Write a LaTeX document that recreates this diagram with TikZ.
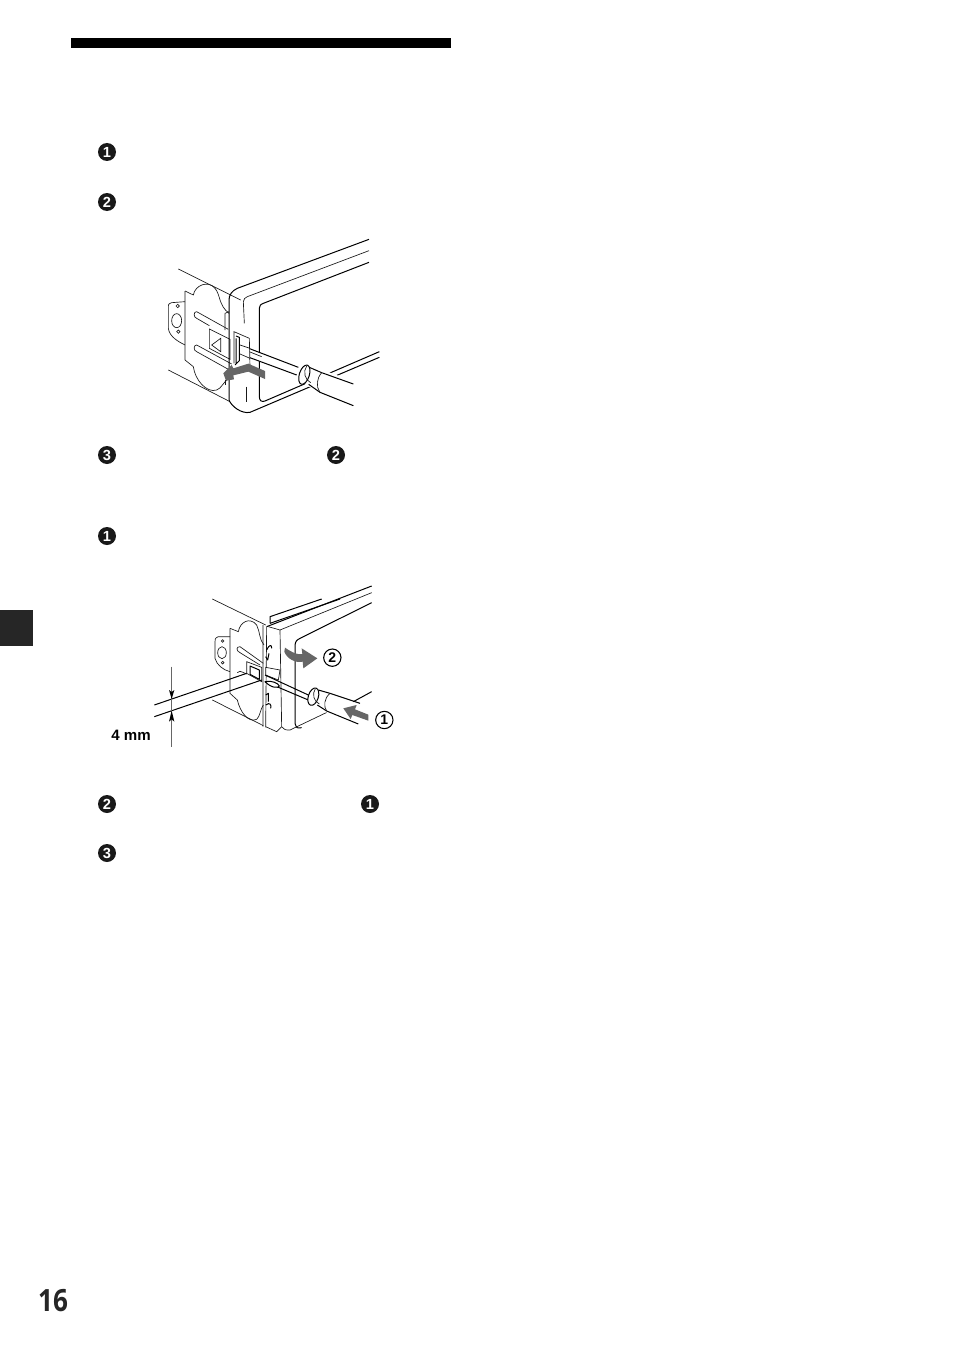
\documentclass[tikz,border=0pt]{standalone}
\usepackage{fontspec}
\setmainfont{Liberation Sans}
\newfontfamily\pagefont{Open Sans}
\tikzset{
  stepdot/.style={circle,fill=black!90,text=white,inner sep=0pt,minimum size=13.5pt,font=\bfseries\fontsize{11}{11}\selectfont},
  ringnum/.style={circle,draw,line width=0.8pt,inner sep=0pt,minimum size=13pt,font=\bfseries\fontsize{10.5}{10}\selectfont},
  edge/.style={line width=0.75pt,line join=round},
  thinline/.style={line width=0.5pt,black!90},
  greyarrow/.style={fill=black!60,draw=none},
  view/.style={x=0.25pt,y=-0.25pt}
}
\begin{document}
\begin{tikzpicture}[x=0.75pt,y=-0.75pt]
\useasboundingbox (0,0) rectangle (954,1352);
\fill (71,38) rectangle (451,48);
\fill[black!85] (0,610) rectangle (33,646);
\node[stepdot] (a1) at (107,152) {1};
\node[stepdot] (a2) at (107,202) {2};
\node[stepdot] (a3) at (107,455) {3};
\node[stepdot] (a4) at (336,455) {2};
\node[stepdot] (b1) at (107,536) {1};
\node[stepdot] (b2) at (107,804) {2};
\node[stepdot] (b3) at (370,804) {1};
\node[stepdot] (b4) at (107,853) {3};
\node[font=\pagefont\bfseries\fontsize{23}{24}\selectfont,xscale=0.85,black!85] (pagenum) at (53,1301) {16};
\node[font=\bfseries\fontsize{11.3}{12}\selectfont] (gap) at (131,735) {4 mm};

% first view
\begin{scope}[shift={(150,230)},view]
\draw[thinline] (85,117) -- (272,210);
\draw[thinline] (55,420) -- (240,515);
\draw[thinline] (105,183) -- (130,195) .. controls (135,165) and (175,150) .. (195,175) .. controls (212,195) and (205,225) .. (237,250);
\draw[thinline] (105,183) -- (105,390) -- (130,410) .. controls (135,450) and (170,490) .. (200,480) .. controls (215,475) and (220,455) .. (237,445);
\draw[thinline] (105,215) -- (65,218) .. controls (55,222) .. (55,235) -- (55,295) .. controls (58,320) and (85,335) .. (105,345);
\draw[thinline] (83,228) circle [radius=5];
\draw[thinline] (80,272) ellipse [x radius=15,y radius=21];
\draw[thinline] (85,305) circle [radius=5];
\draw[thinline] (235,298) -- (140,245) .. controls (130,245) and (130,262) .. (140,265) -- (178,287);
\draw[thinline] (245,402) -- (140,345) .. controls (130,345) and (130,362) .. (140,365) -- (235,418);
\draw[thinline] (178,297) -- (240,328) -- (240,388) -- (178,355) -- cycle;
\draw[thinline] (185,345) -- (212,325) -- (212,365) -- cycle;
\draw[thinline] (225,250) -- (237,245) (225,250) -- (225,300);
\draw[thinline] (225,450) -- (225,465);
\draw[edge] (657,28) -- (262,175) .. controls (245,183) and (237,195) .. (237,210) -- (237,510) .. controls (245,530) and (275,552) .. (300,547) -- (688,382);
\draw[edge] (657,97) -- (340,220) .. controls (330,225) .. (328,235) -- (328,500) .. controls (328,512) and (335,517) .. (345,513) -- (688,365);
\draw[thinline] (657,62) -- (292,200) .. controls (283,205) .. (280,215) -- (283,280);
\draw[thinline] (290,470) -- (290,515);
% screwdriver
\fill[white] (270,345) -- (445,412) -- (440,435) -- (270,372) -- cycle;
\draw[edge] (270,345) -- (445,412) (270,372) -- (440,435);
\draw[thinline] (285,360) -- (335,380);
\fill[white] (480,405) -- (625,460) -- (625,530) -- (465,465) -- cycle;
\draw[edge] (478,412) -- (515,428) -- (610,462);
\draw[edge] (476,463) -- (510,487) -- (610,527);
\draw[thinline] (515,428) .. controls (500,445) and (497,470) .. (510,487);
\draw[edge,fill=white] (463,434) ellipse [x radius=15,y radius=30,rotate=-18];
\draw[thinline] (470,408) .. controls (458,425) and (465,450) .. (482,458);
% clip
\fill[white] (252,305) -- (298,325) -- (300,412) -- (252,400) -- cycle;
\draw[thinline] (270,345) -- (300,355) (270,372) -- (300,385);
\draw[thinline] (252,400) -- (252,305) -- (298,325) -- (300,412);
\draw[edge] (258,318) -- (268,322) -- (268,392) -- (255,405) (258,325) -- (258,400);
\fill[greyarrow] (345,423) -- (345,447) -- (295,425) -- (250,436) -- (252,448) -- (228,452) -- (220,430) -- (245,405) -- (250,415) -- (295,401) -- cycle;
\end{scope}

% second view
\begin{scope}[shift={(100,580)},view]
\draw[thinline] (337,57) -- (497,135);
\draw[thinline] (337,360) -- (490,437);
\draw[thinline] (390,145) -- (415,155) .. controls (420,125) and (450,110) .. (470,135) .. controls (480,155) and (478,180) .. (492,195);
\draw[thinline] (390,145) -- (390,340) -- (412,360) .. controls (420,395) and (445,430) .. (470,418) .. controls (480,410) and (482,385) .. (490,375);
\draw[thinline] (390,170) -- (355,170) .. controls (345,175) .. (345,185) -- (345,235) .. controls (350,255) and (370,270) .. (390,275);
\draw[thinline] (368,183) circle [radius=4];
\draw[thinline] (366,218) ellipse [x radius=13,y radius=18];
\draw[thinline] (368,248) circle [radius=4];
\draw[thinline] (490,250) -- (420,200) .. controls (408,200) and (408,212) .. (420,218) -- (480,255);
\draw[thinline] (440,245) -- (485,262) -- (485,305) -- (440,280) -- cycle;
\draw[edge] (450,258) -- (478,270) -- (478,298) -- (450,283) -- cycle;
\draw[thinline] (412,278) .. controls (418,272) .. (440,282);
\draw[edge] (510,130) -- (510,110) -- (665,57);
\draw[edge] (510,130) -- (720,57);
\draw[edge] (500,140) -- (815,18);
\draw[thinline] (505,140) -- (540,150) -- (815,38);
\draw[thinline] (489,135) -- (489,440) (500,140) -- (497,442);
\draw[thinline] (540,150) -- (545,440) .. controls (555,450) .. (570,450) -- (685,395);
\draw[thinline] (497,440) -- (530,455) -- (545,440);
\draw[edge] (815,68) -- (600,175) .. controls (588,182) .. (585,195) -- (585,430) .. controls (590,445) .. (605,443);
\draw[edge] (500,210) .. controls (510,190) and (515,195) .. (515,205) (497,230) -- (503,240) -- (507,220);
\draw[edge] (497,375) .. controls (510,365) and (515,375) .. (512,385) (497,345) -- (505,340) -- (505,365);
% screwdriver
\draw[edge] (163,375) -- (440,280);
\draw[edge] (163,410) -- (485,300);
\draw[thinline,fill=white] (497,262) -- (540,270) -- (535,300) -- (497,285) -- cycle;
\draw[edge] (495,285) -- (625,345);
\draw[edge] (495,305) -- (625,360);
\draw[edge,fill=white] (495,305) .. controls (515,325) and (535,325) .. (538,318) .. controls (535,310) and (515,300) .. (495,305) -- cycle;
\fill[white] (665,325) -- (785,368) -- (780,440) -- (650,385) -- cycle;
\draw[edge] (655,330) -- (690,340) -- (780,370);
\draw[edge] (760,365) -- (815,335);
\draw[edge] (652,375) -- (680,393) -- (775,432);
\draw[thinline] (690,340) .. controls (672,355) and (670,380) .. (680,393);
\draw[edge,fill=white] (640,350) ellipse [x radius=15,y radius=27,rotate=-18];
\draw[thinline] (646,326) .. controls (635,342) and (642,365) .. (658,372);
% dimension
\coordinate (dimtop) at (215,260);
\coordinate (dimbot) at (215,500);
\draw[line width=0.5pt,black!60] (dimtop) -- (dimbot);
\fill (215,357) -- (207,330) -- (215,336) -- (223,330) -- cycle;
\fill (215,392) -- (207,425) -- (215,418) -- (223,425) -- cycle;
% grey arrows
\fill[greyarrow] (805,404) -- (805,422) -- (757,405) -- (752,417) -- (730,385) -- (770,375) -- (765,388) -- cycle;
\fill[greyarrow] (555,203) .. controls (580,220) and (595,225) .. (607,222) -- (605,205) -- (652,235) -- (610,265) -- (608,245) .. controls (585,250) and (560,235) .. (553,215) -- cycle;
\node[ringnum] (ring2) at (697,233) {2};
\node[ringnum] (ring1) at (853,420) {1};
\end{scope}
\end{tikzpicture}
\end{document}
